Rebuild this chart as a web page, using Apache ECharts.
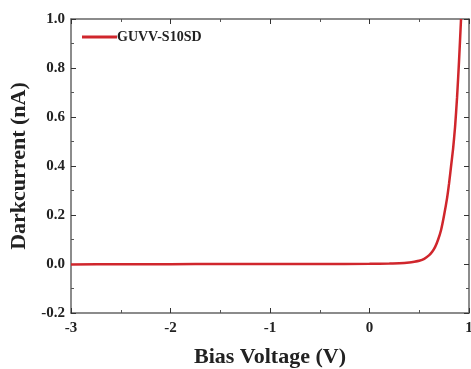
<!DOCTYPE html>
<html>
<head>
<meta charset="utf-8">
<script src="https://cdn.jsdelivr.net/npm/echarts@6/dist/echarts.min.js"></script>
<style>
  html, body { margin: 0; padding: 0; background: #fff; }
  #chart { width: 471px; height: 369px; }
</style>
</head>
<body>
<div id="chart"></div>
<script>
// bias voltage (V) and dark current (nA)
const voltage = [-3, -2.5, -2, -1.5, -1, -0.5, 0, 0.2, 0.3, 0.4, 0.45, 0.5, 0.55, 0.6, 0.63, 0.66, 0.69, 0.72, 0.75, 0.78, 0.8, 0.82, 0.84, 0.86, 0.88, 0.9, 0.92];
const current = [-0.002, -0.001, -0.001, 0, 0, 0, 0.001, 0.002, 0.003, 0.006, 0.009, 0.013, 0.021, 0.036, 0.05, 0.07, 0.1, 0.14, 0.2, 0.27, 0.33, 0.4, 0.47, 0.56, 0.68, 0.83, 1.0];
const seriesName = 'GUVV-S10SD';

const font = '"Liberation Serif", "Times New Roman", serif';
const axisColor = '#666';

const chart = echarts.init(document.getElementById('chart'));

const tickStyle = {
    axisLine: { show: true, onZero: false, lineStyle: { color: axisColor, width: 1.5 } },
    axisTick: { show: true, inside: true, length: 5, lineStyle: { color: '#333', width: 1 } },
    minorTick: { show: true, splitNumber: 2, length: 3, lineStyle: { color: '#555' } },
    splitLine: { show: false }
};

const option = {
    backgroundColor: '#fff',
    animation: false,
    grid: { left: 71, right: 2, top: 19, bottom: 56, containLabel: false, outerBoundsMode: 'none' },
    legend: {
        left: 77, top: 25,
        data: [seriesName],
        icon: 'rect',
        itemWidth: 35, itemHeight: 3,
        itemGap: 4,
        textStyle: { fontFamily: font, fontWeight: 'bold', fontSize: 14, color: '#222', padding: [0, 0, 0, -5] }
    },
    xAxis: [
        {
            type: 'value', min: -3, max: 1, interval: 1, position: 'bottom',
            ...tickStyle,
            axisLabel: { fontFamily: font, fontWeight: 'bold', fontSize: 15, color: '#222', margin: 8 },
            name: 'Bias Voltage (V)', nameLocation: 'middle', nameGap: 33,
            nameTextStyle: { fontFamily: font, fontWeight: 'bold', fontSize: 22, color: '#222' }
        },
        {
            type: 'value', min: -3, max: 1, interval: 1, position: 'top',
            ...tickStyle,
            axisLabel: { show: false }
        }
    ],
    yAxis: [
        {
            type: 'value', min: -0.2, max: 1.0, interval: 0.2, position: 'left',
            ...tickStyle,
            axisLabel: {
                fontFamily: font, fontWeight: 'bold', fontSize: 15, color: '#222', margin: 6,
                formatter: v => v.toFixed(1)
            },
            name: 'Darkcurrent (nA)', nameLocation: 'middle', nameGap: 39,
            nameTextStyle: { fontFamily: font, fontWeight: 'bold', fontSize: 22, color: '#222' }
        },
        {
            type: 'value', min: -0.2, max: 1.0, interval: 0.2, position: 'right',
            ...tickStyle,
            axisLabel: { show: false }
        }
    ],
    series: [
        {
            name: seriesName,
            type: 'line',
            smooth: 0.2,
            showSymbol: false,
            clip: true,
            data: voltage.map((v, i) => [v, current[i]]),
            lineStyle: { color: '#d0262c', width: 2.5 },
            itemStyle: { color: '#d0262c' }
        }
    ]
};

chart.setOption(option);
</script>
</body>
</html>
